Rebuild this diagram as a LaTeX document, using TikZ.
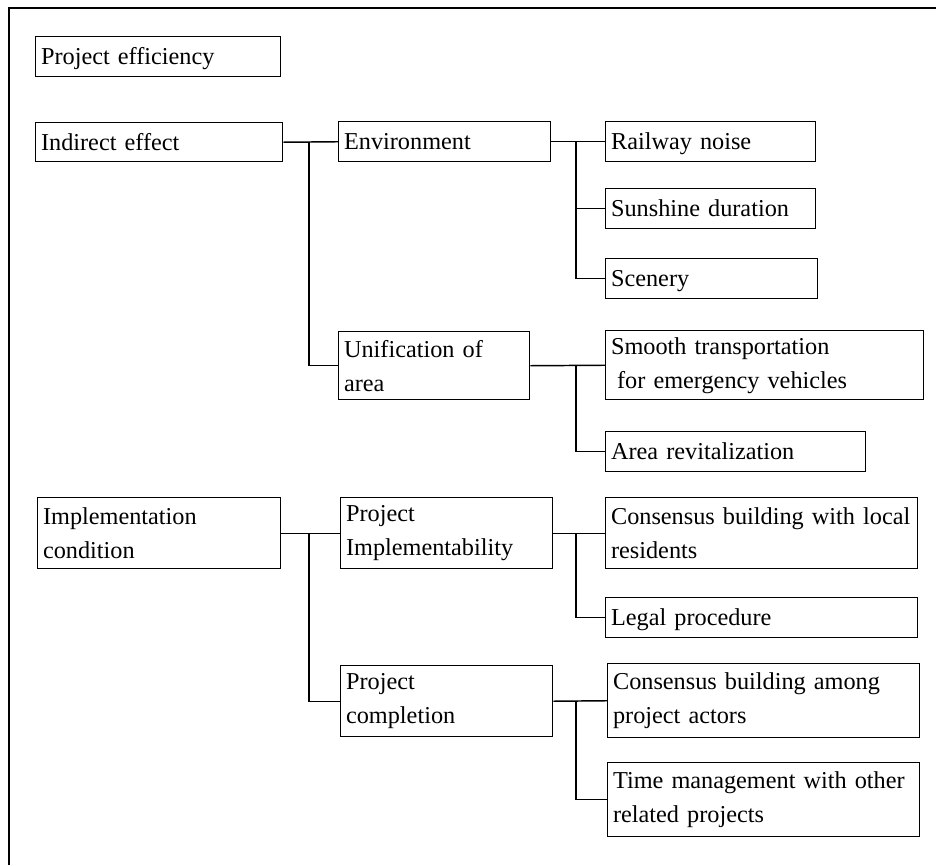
\documentclass[tikz,border=0pt]{standalone}
\usepackage{fontspec}
\setmainfont{Liberation Serif}[WordSpace=0.8]
\newcommand{\boxfont}{\fontsize{18.2}{25.5}\selectfont}
\tikzset{every picture/.style={line width=1.1pt}}
\tikzset{
    box/.style={draw, anchor=north west, align=left, inner xsep=4pt, inner ysep=0pt, font=\boxfont},
    single/.style={text height=14pt, text depth=2pt},
    frame/.style={line width=1.4pt}}

\begin{document}
\begin{tikzpicture}[x=0.75pt,y=0.75pt,yscale=-1,xscale=1]
            \useasboundingbox (0,0) rectangle (936,865);
            %Frame
            \draw[frame] (9,865) -- (9,8) -- (936,8);

            %Level 1
            \node[box, single, text width=175.75pt, minimum height=30pt] (pe) at (35,36) {Project efficiency};
            \node[box, single, text width=177.25pt, minimum height=29.25pt] (ie) at (35,122) {Indirect effect};
            \node[box, text width=174.25pt, minimum height=53.25pt] (impl) at (37,497) {Implementation\\condition};

            %Level 2
            \node[box, single, text width=151pt, minimum height=30pt] (env) at (338,121) {Environment};
            \node[box, text width=135.25pt, minimum height=51pt] (unif) at (338,331) {Unification of\\area};
            \node[box, text width=151pt, minimum height=53.25pt] (pimp) at (340,497) {Project\\Implementability};
            \node[box, text width=151pt, minimum height=53.25pt] (pcomp) at (340,665) {Project\\completion};

            %Level 3
            \node[box, single, text width=149.5pt, minimum height=30pt] (rail) at (605,121) {Railway noise};
            \node[box, single, text width=149.5pt, minimum height=30pt] (sun) at (605,188) {Sunshine duration};
            \node[box, single, text width=151pt, minimum height=30pt] (scen) at (605,258) {Scenery};
            \node[box, text width=230.5pt, minimum height=51.75pt] (smooth) at (605,330) {Smooth transportation\\\hspace*{0.25em}for emergency vehicles};
            \node[box, single, text width=187pt, minimum height=30pt] (area) at (605,431) {Area revitalization};
            \node[box, text width=226pt, minimum height=53.25pt] (cloc) at (605,497) {Consensus building with local\\residents};
            \node[box, single, text width=226pt, minimum height=30pt] (legal) at (605,597) {Legal procedure};
            \node[box, text width=226pt, minimum height=55.5pt] (camong) at (607,663) {Consensus building among\\project actors};
            \node[box, text width=226pt, minimum height=55.5pt] (tmgmt) at (607,762) {Time management with other\\related projects};

            %Junctions
            \coordinate (j1) at (309,0);
            \coordinate (j2) at (576,0);

            %Connectors
            \draw (ie.east) -- (env.west);
            \draw (ie.east -| j1) |- (unif.west);
            \draw (env.east) -- (rail.west);
            \draw (env.east -| j2) |- (sun.west);
            \draw (env.east -| j2) |- (scen.west);
            \draw (unif.east) -- (smooth.west);
            \draw (unif.east -| j2) |- (area.west);
            \draw (impl.east) -- (pimp.west);
            \draw (impl.east -| j1) |- (pcomp.west);
            \draw (pimp.east) -- (cloc.west);
            \draw (pimp.east -| j2) |- (legal.west);
            \draw (pcomp.east) -- (camong.west);
            \draw (pcomp.east -| j2) |- (tmgmt.west);
\end{tikzpicture}
\end{document}
